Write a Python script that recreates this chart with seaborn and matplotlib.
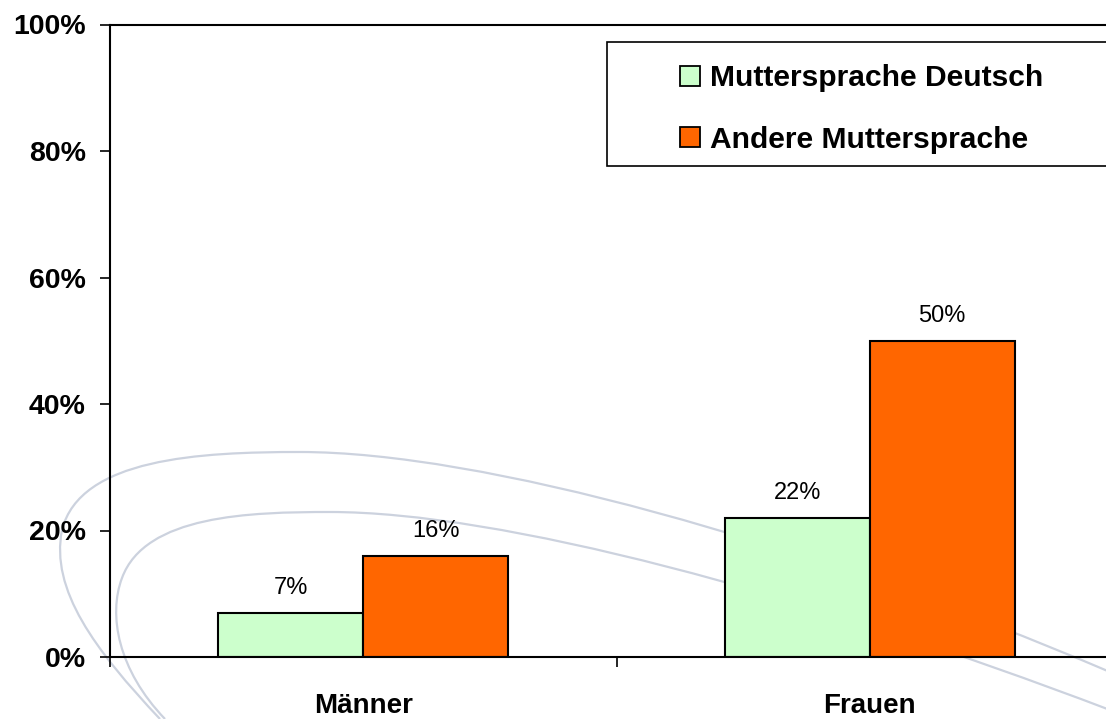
import matplotlib
matplotlib.use("Agg")
import matplotlib.pyplot as plt
from matplotlib.path import Path
from matplotlib.patches import PathPatch, Rectangle, Patch
import seaborn as sns
import pandas as pd

# ---- data ----
categories = ["Männer", "Frauen"]
series_names = ["Muttersprache Deutsch", "Andere Muttersprache"]
deutsch = [7, 22]
andere = [16, 50]
y_ticks = [0, 20, 40, 60, 80, 100]
y_tick_labels = ["0%", "20%", "40%", "60%", "80%", "100%"]
colors = ["#CCFFCC", "#FF6600"]

df = pd.DataFrame({
    "Geschlecht": categories * 2,
    "Gruppe": [series_names[0]] * 2 + [series_names[1]] * 2,
    "Wert": deutsch + andere,
})

sns.set_theme(style="white")
plt.rcParams["font.family"] = ["Liberation Sans", "DejaVu Sans"]
plt.rcParams["text.color"] = "black"
plt.rcParams["xtick.color"] = "black"
plt.rcParams["ytick.color"] = "black"
plt.rcParams["axes.labelcolor"] = "black"

W, H = 1106, 719
fig = plt.figure(figsize=(W / 100, H / 100), dpi=100)
fig.patch.set_facecolor("white")

def px(x, y):
    return (x / W, 1 - y / H)

# decorative background swooshes (figure pixel coords)
def swoosh(pts):
    verts = [px(*p) for p in pts]
    codes = [Path.MOVETO] + [Path.CURVE4] * (len(verts) - 1)
    patch = PathPatch(Path(verts, codes), transform=fig.transFigure,
                      facecolor="none", edgecolor="#CCD2DE", lw=1.6, zorder=-5)
    fig.add_artist(patch)

swoosh([(160, 719), (95, 650), (50, 590), (62, 530),
        (80, 458), (200, 452), (300, 452),
        (480, 452), (800, 540), (1110, 672)])
swoosh([(165, 719), (118, 670), (108, 615), (122, 578),
        (145, 515), (250, 512), (330, 512),
        (500, 512), (800, 592), (1110, 710)])

left, right, top, bottom = 110, 1123, 24.5, 657
ax = fig.add_axes([left / W, 1 - bottom / H, (right - left) / W, (bottom - top) / H])
ax.set_facecolor("none")

sns.barplot(data=df, x="Geschlecht", y="Wert", hue="Gruppe", order=categories,
            hue_order=series_names, palette=colors, width=0.572,
            edgecolor="black", linewidth=1.5, saturation=1, ax=ax, legend=False)

for cont in ax.containers:
    ax.bar_label(cont, labels=[f"{v:.0f}%" for v in cont.datavalues],
                 padding=10, fontsize=17, color="black")

ax.set_xlim(-0.5, 1.5)
ax.set_ylim(0, 100)
ax.set_yticks(y_ticks)
ax.set_yticklabels(y_tick_labels, fontsize=20.5, fontweight="bold", color="black")
ax.set_xticks([0, 1])
ax.set_xticklabels(categories, fontsize=20, fontweight="bold", color="black")
ax.set_xticks([-0.5, 0.5, 1.5], minor=True)
ax.tick_params(axis="x", which="major", length=0, pad=26)
ax.tick_params(axis="x", which="minor", length=7.5, width=1.2, color="black", direction="out", bottom=True)
ax.tick_params(axis="y", which="major", length=7.5, width=1.2, color="black", direction="out", left=True, pad=10)
ax.set_xlabel("")
ax.set_ylabel("")
for s in ["left", "bottom", "top", "right"]:
    ax.spines[s].set_visible(True)
    ax.spines[s].set_color("black")
    ax.spines[s].set_linewidth(1.5)

# legend frame
(fx0, fy0) = px(607, 166)
(fx1, fy1) = px(1150, 42)
fig.add_artist(Rectangle((fx0, fy0), fx1 - fx0, fy1 - fy0, transform=fig.transFigure,
                         facecolor="white", edgecolor="black", lw=1.2, zorder=3))

handles = [Patch(facecolor=c, edgecolor="black", lw=1.3) for c in colors]
leg = fig.legend(handles, series_names, loc="center left", bbox_to_anchor=px(680, 109),
                 frameon=False, borderpad=0, borderaxespad=0, handlelength=0.66,
                 handleheight=0.66, handletextpad=0.33, labelspacing=1.12,
                 prop={"size": 21.6, "weight": "bold"})
for t in leg.get_texts():
    t.set_color("black")
leg.set_zorder(4)

fig.savefig("out.png", dpi=100)
